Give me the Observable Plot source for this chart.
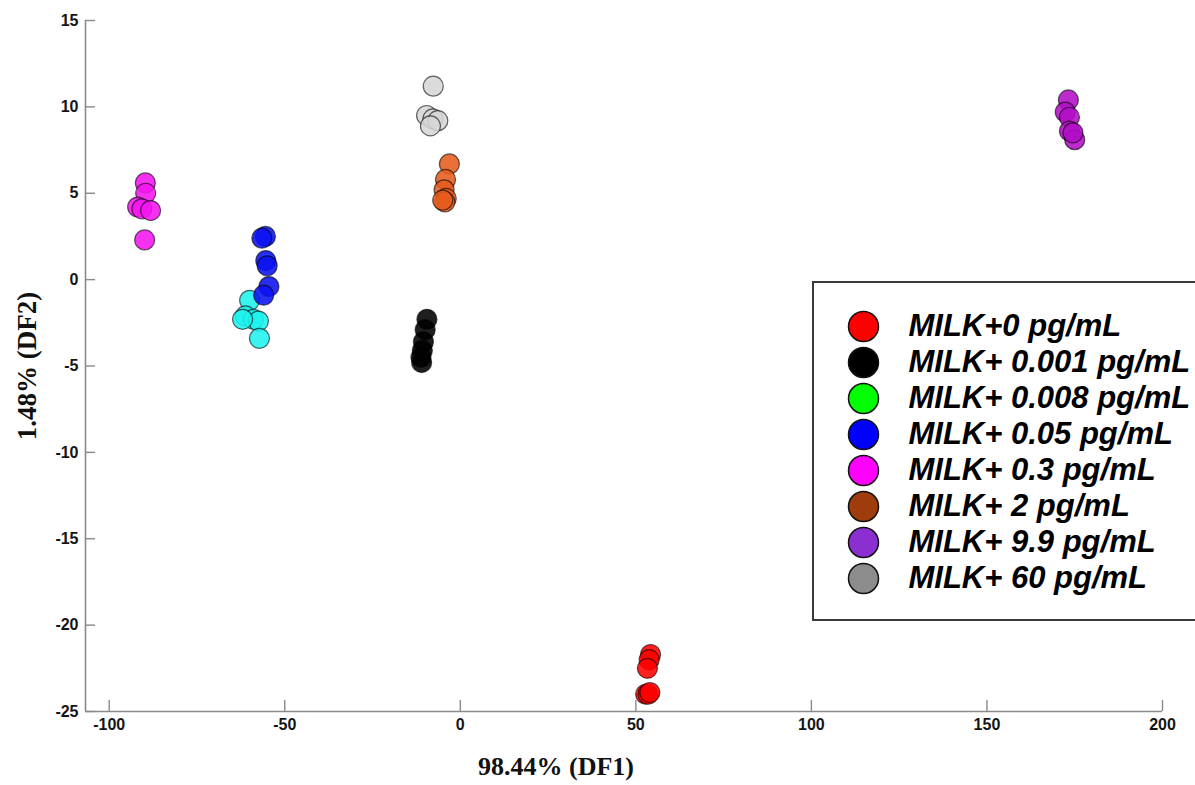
<!DOCTYPE html>
<html>
<head>
<meta charset="utf-8">
<script src="https://cdn.jsdelivr.net/npm/d3@7"></script>
<script src="https://cdn.jsdelivr.net/npm/@observablehq/plot@0.6"></script>
<style>
  html, body { margin: 0; padding: 0; background: #fff; overflow: hidden; }
  #chart { position: relative; width: 1195px; height: 785px; }
  #legend {
    position: absolute; left: 812px; top: 281px; width: 420px; height: 336px;
    border: 2px solid #3a3a3a; background: #fff;
  }
</style>
</head>
<body>
<div id="chart"><div id="legend"></div></div>
<script>
// Sample groups (spiked concentrations in milk)
const groups = [
  "MILK+0 pg/mL",
  "MILK+ 0.001 pg/mL",
  "MILK+ 0.008 pg/mL",
  "MILK+ 0.05 pg/mL",
  "MILK+ 0.3 pg/mL",
  "MILK+ 2 pg/mL",
  "MILK+ 9.9 pg/mL",
  "MILK+ 60 pg/mL"
];

// Discriminant scores [DF1, DF2] for each group
const milk0     = [[54.2, -21.7], [53.8, -22.0], [53.3, -22.5], [52.8, -24.0], [53.5, -24.0], [54.0, -23.9]];
const milk0001  = [[-9.5, -2.3], [-10.0, -2.9], [-10.5, -3.6], [-10.8, -4.1], [-11.2, -4.5], [-11.0, -4.8]];
const milk0008  = [[-60.0, -1.2], [-61.2, -2.1], [-58.9, -2.3], [-57.5, -2.4], [-62.0, -2.3], [-57.2, -3.4]];
const milk005   = [[-55.5, 2.5], [-56.5, 2.4], [-55.4, 1.1], [-55.0, 0.8], [-54.5, -0.4], [-56.0, -0.9]];
const milk03    = [[-89.7, 5.6], [-89.6, 5.0], [-91.9, 4.2], [-90.7, 4.1], [-88.2, 4.0], [-89.9, 2.3]];
const milk2     = [[-3.1, 6.7], [-4.2, 5.8], [-4.6, 5.2], [-4.0, 4.7], [-4.4, 4.5], [-5.0, 4.6]];
const milk99    = [[173.2, 10.4], [172.3, 9.7], [173.5, 9.4], [173.5, 8.6], [175.0, 8.1], [174.5, 8.5]];
const milk60    = [[-7.7, 11.2], [-9.6, 9.5], [-7.8, 9.3], [-6.4, 9.2], [-8.5, 8.9]];
const scores = [milk0, milk0001, milk0008, milk005, milk03, milk2, milk99, milk60];

// Colours: scatter fills and legend swatches
const pointColors  = ["#ff0000", "#000000", "#1ef2ee", "#0a12f0", "#f514f0", "#e65c1c", "#b20ec6", "#d6d6d6"];
const legendColors = ["#ff0000", "#000000", "#00ff00", "#0000ff", "#ff00ff", "#9e3c0b", "#8b2fd1", "#8c8c8c"];

// Axis extents and ticks
const xDomain = [-106.75, 200];
const yDomain = [-25, 15];
const xTicks = [-100, -50, 0, 50, 100, 150, 200];
const yTicks = [-25, -20, -15, -10, -5, 0, 5, 10, 15];

const xLabel = "98.44% (DF1)";
const yLabel = "1.48% (DF2)";

const points = scores.flatMap((pts, i) => pts.map(([x, y]) => ({group: groups[i], x, y})));

const W = 1195, H = 785;
const mL = 85, mR = 33, mT = 20, mB = 74;
const plotW = W - mL - mR, plotH = H - mT - mB;
const axisColor = "#8a8a8a";
const plainNumber = d => String(d); // hyphen-minus, as in the printed figure

const chart = Plot.plot({
  width: W,
  height: H,
  marginLeft: mL,
  marginRight: mR,
  marginTop: mT,
  marginBottom: mB,
  style: {fontFamily: "Liberation Sans, Arial, sans-serif", background: "#fff"},
  x: {domain: xDomain},
  y: {domain: yDomain},
  color: {domain: groups, range: pointColors},
  marks: [
    // axis lines (left and bottom)
    Plot.ruleX([xDomain[0]], {y1: yDomain[0], y2: yDomain[1], stroke: axisColor, strokeWidth: 1.6}),
    Plot.ruleY([yDomain[0]], {x1: xDomain[0], x2: xDomain[1], stroke: axisColor, strokeWidth: 1.6}),
    // inward ticks
    Plot.tickY(yTicks, {y: d => d, insetRight: plotW - 10, stroke: axisColor, strokeWidth: 1.4}),
    Plot.tickX(xTicks, {x: d => d, insetTop: plotH - 11, stroke: axisColor, strokeWidth: 1.4}),
    // tick labels
    Plot.axisY(yTicks, {tickSize: 0, tickPadding: 7, label: null, tickFormat: plainNumber,
      fontSize: 16, fontWeight: "bold", fill: "#151515"}),
    Plot.axisX(xTicks, {tickSize: 0, tickPadding: 7, label: null, tickFormat: plainNumber,
      fontSize: 16, fontWeight: "bold", fill: "#151515"}),
    // axis titles
    Plot.text([xLabel], {text: d => d, frameAnchor: "bottom", dy: 63, dx: -68, fontSize: 26, fontWeight: "bold",
      fontFamily: "Liberation Serif, Times New Roman, serif", fill: "#111"}),
    Plot.text([yLabel], {text: d => d, frameAnchor: "left", textAnchor: "middle", dx: -58, rotate: -90,
      fontSize: 27, fontWeight: "bold", fontFamily: "Liberation Serif, Times New Roman, serif", fill: "#111"}),
    // scores
    Plot.dot(points, {x: "x", y: "y", fill: "group", r: 10, fillOpacity: 0.88,
      stroke: "#000", strokeOpacity: 0.6, strokeWidth: 1.2})
  ]
});
document.getElementById("chart").prepend(chart);

// Legend: one swatch per group
const legend = Plot.plot({
  width: 381,
  height: 336,
  margin: 0,
  style: {fontFamily: "Liberation Sans, Arial, sans-serif", background: "#fff", overflow: "visible"},
  y: {type: "point", domain: groups, range: [22, 316], axis: null},
  color: {domain: groups, range: legendColors},
  marks: [
    Plot.dot(groups, {y: d => d, fill: d => d, frameAnchor: "left", dx: 49, r: 15, stroke: "#111", strokeWidth: 1.5}),
    Plot.text(groups, {y: d => d, text: d => d, frameAnchor: "left", dx: 94, textAnchor: "start",
      fontSize: 31, fontWeight: "bold", fontStyle: "italic", fill: "#000"})
  ]
});
document.getElementById("legend").appendChild(legend);
</script>
</body>
</html>
